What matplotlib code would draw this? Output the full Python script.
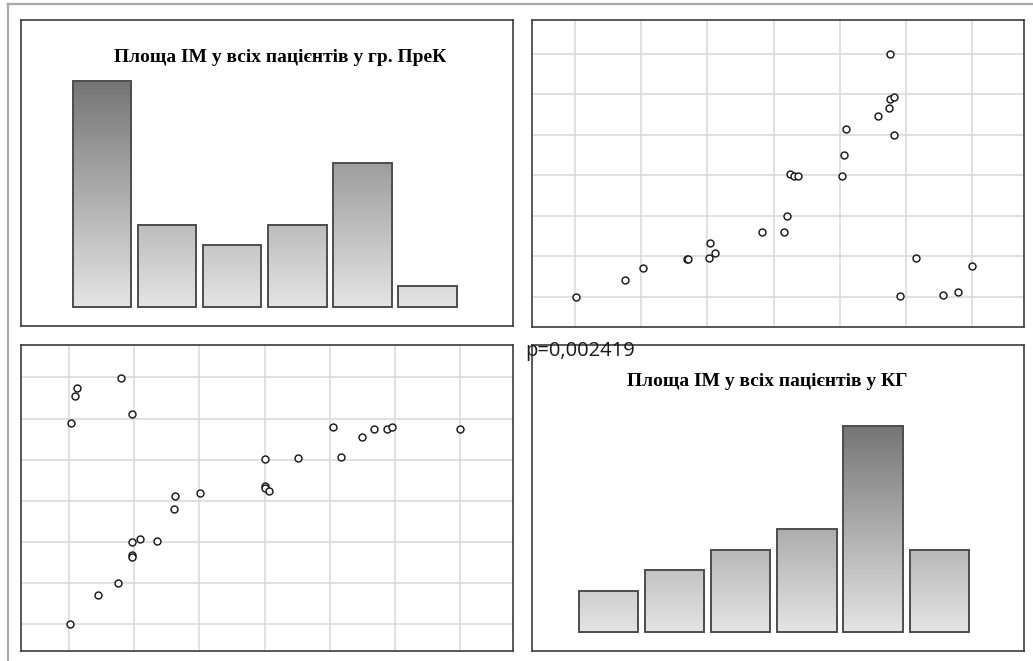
import numpy as np
import matplotlib
matplotlib.use("Agg")
import matplotlib.pyplot as plt
from matplotlib.colors import LinearSegmentedColormap
from matplotlib.lines import Line2D

W, H = 1033, 661

# histogram counts per bin
prek_counts = [11, 4, 3, 4, 7, 1]
kg_counts = [2, 3, 4, 5, 10, 4]
prek_title = "Площа ІМ у всіх пацієнтів у гр. ПреК"
kg_title = "Площа ІМ у всіх пацієнтів у КГ"
p_label = "p=0,002419"

# scatter (upper right)
sc1_x = [4.76, 4.76, 4.82, 4.74, 4.57, 4.09, 4.82, 4.07, 4.03, 3.25, 3.31, 3.37,
         3.21, 2.82, 3.16, 2.04, 2.12, 2.02, 1.69, 1.71, 1.03, 0.75, 0.01,
         5.15, 4.91, 5.56, 5.79, 6.00]
sc1_y = [5.98, 4.88, 4.92, 4.67, 4.46, 4.15, 3.99, 3.49, 2.99, 3.03, 2.99, 2.99,
         1.99, 1.60, 1.60, 1.32, 1.08, 0.95, 0.92, 0.92, 0.72, 0.41, -0.01,
         0.96, 0.02, 0.05, 0.11, 0.75]

# scatter (lower left)
sc2_x = [0.79, 0.12, 0.09, 0.96, 0.03, 4.04, 4.49, 4.68, 4.88, 4.95, 6.00,
         3.01, 3.51, 4.17, 3.01, 3.01, 3.06, 1.63, 2.01, 1.61, 0.97, 1.09,
         1.35, 0.96, 0.96, 0.75, 0.44, 0.01]
sc2_y = [5.99, 5.75, 5.54, 5.12, 4.88, 4.79, 4.55, 4.74, 4.74, 4.79, 4.74,
         4.01, 4.04, 4.07, 3.36, 3.30, 3.23, 3.11, 3.20, 2.81, 2.00, 2.08,
         2.03, 1.67, 1.64, 1.01, 0.71, -0.01]


def px_box(x0, y0, x1, y1):
    return [x0 / W, 1 - y1 / H, (x1 - x0) / W, (y1 - y0) / H]


def frame(ax):
    for s in ax.spines.values():
        s.set_color("#3c3c3c")
        s.set_linewidth(1.2)
    ax.set_xticks([])
    ax.set_yticks([])


def grad_bars(ax, counts, xlim, ylim):
    cmap = LinearSegmentedColormap.from_list("bar", ["#e4e4e4", "#767676"])
    top = max(counts)
    for i, v in enumerate(counts):
        grad = np.linspace(0, v, 100).reshape(-1, 1)
        ax.imshow(grad, extent=(i - 0.45, i + 0.45, 0, v), origin="lower",
                  cmap=cmap, vmin=0, vmax=top, aspect="auto", zorder=2)
        ax.bar(i, v, width=0.9, facecolor="none", edgecolor="#4d4d4d",
               linewidth=1.4, zorder=3)
    ax.set_xlim(*xlim)
    ax.set_ylim(*ylim)
    frame(ax)


def scatter(ax, x, y, xlim, ylim):
    ax.plot(x, y, ls="none", marker="o", ms=5, mfc="white", mec="#1a1a1a",
            mew=1.05, zorder=3)
    ax.set_xlim(*xlim)
    ax.set_ylim(*ylim)
    ax.set_xticks(range(7))
    ax.set_yticks(range(7))
    ax.tick_params(length=0, labelbottom=False, labelleft=False)
    ax.grid(color="#d9d9d9", lw=1.1, zorder=0)
    ax.set_axisbelow(True)
    for s in ax.spines.values():
        s.set_color("#3c3c3c")
        s.set_linewidth(1.2)


fig = plt.figure(figsize=(W / 100, H / 100), dpi=100)

# page frame
fig.add_artist(Line2D([7.5 / W, 1], [1 - 4 / H] * 2, color="#aaaaaa", lw=1.6))
fig.add_artist(Line2D([7.5 / W] * 2, [0, 1 - 4 / H], color="#aaaaaa", lw=1.6))

ax1 = fig.add_axes(px_box(21, 20, 513, 326))
grad_bars(ax1, prek_counts, (-1.241, 6.313), (-0.94, 13.98))
fig.text(280 / W, 1 - 57 / H, prek_title, ha="center", va="center",
         family="Liberation Serif", weight="bold", fontsize=14)

ax2 = fig.add_axes(px_box(531.7, 20, 1024.3, 326.7))
scatter(ax2, sc1_x, sc1_y, (-0.654, 6.787), (-0.74, 6.83))

ax3 = fig.add_axes(px_box(20.7, 345, 513.3, 651))
scatter(ax3, sc2_x, sc2_y, (-0.74, 6.81), (-0.657, 6.79))

ax4 = fig.add_axes(px_box(531.7, 345, 1024.3, 651))
grad_bars(ax4, kg_counts, (-1.157, 6.284), (-0.94, 13.96))
fig.text(767 / W, 1 - 381 / H, kg_title, ha="center", va="center",
         family="Liberation Serif", weight="bold", fontsize=14)

fig.text(525 / W, 1 - 351 / H, p_label, ha="left", va="center",
         family="Open Sans", fontsize=14.5, color="#1a1a1a")

fig.savefig("out.png", dpi=100)
